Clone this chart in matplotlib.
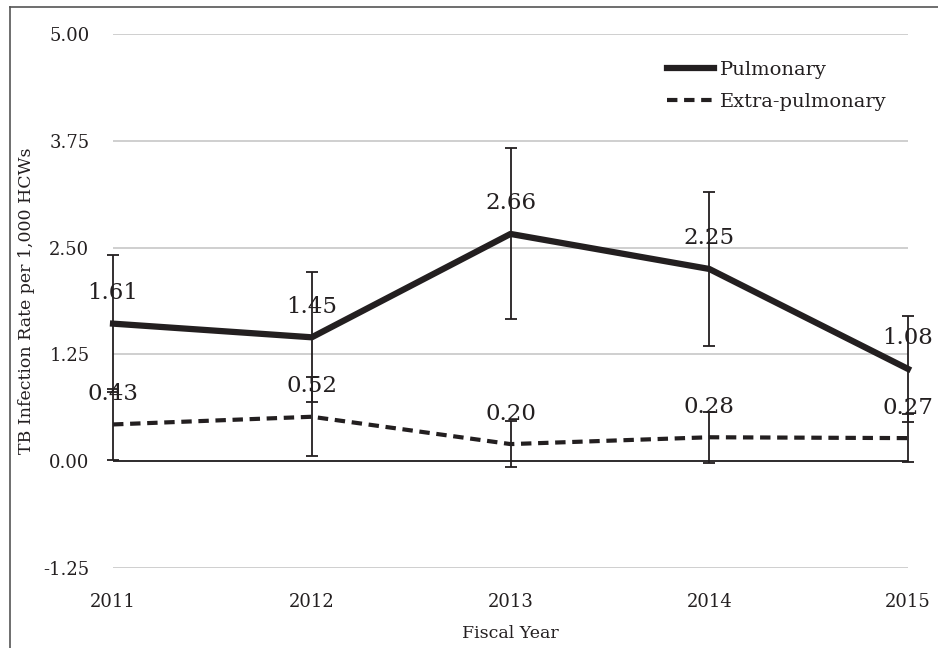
import matplotlib.pyplot as plt
from matplotlib.lines import Line2D

plt.rcParams['font.family'] = ['DejaVu Serif']

years = [2011, 2012, 2013, 2014, 2015]
pulmonary = [1.61, 1.45, 2.66, 2.25, 1.08]
pulmonary_err = [0.80, 0.76, 1.00, 0.90, 0.62]
extra = [0.43, 0.52, 0.20, 0.28, 0.27]
extra_err = [0.42, 0.46, 0.27, 0.30, 0.28]
yticks = [-1.25, 0.00, 1.25, 2.50, 3.75, 5.00]

ink = '#231f20'
dash = (0, (2.5, 1.6))

fig = plt.figure(figsize=(9.38, 6.48), dpi=100)
ax = fig.add_axes([0.1205, 0.1235, 0.8475, 0.824])

for vals, errs, lw, ls in [(pulmonary, pulmonary_err, 4.5, '-'), (extra, extra_err, 3, dash)]:
    ax.plot(years, vals, color=ink, lw=lw, ls=ls, zorder=3, clip_on=False)
    eb = ax.errorbar(years, vals, yerr=errs, fmt='none', ecolor=ink,
                     elinewidth=1.3, capsize=4, capthick=1.3, zorder=4)
    for art in eb.lines[1] + eb.lines[2]:
        art.set_clip_on(False)
    for x, y in zip(years, vals):
        ax.annotate('%.2f' % y, (x, y), xytext=(0, 22), textcoords='offset points',
                    ha='center', va='center', fontsize=16.5, color=ink)

ax.set_xlim(2011, 2015)
ax.set_ylim(-1.25, 5.0)
ax.set_yticks(yticks)
ax.set_yticklabels(['%.2f' % t for t in yticks])
ax.set_xticks(years)
ax.tick_params(axis='both', length=0, labelsize=13, colors=ink)
ax.tick_params(axis='y', pad=17)
ax.tick_params(axis='x', pad=18)
ax.grid(axis='y', color='#cccccc', lw=1.3)
ax.axhline(0, color=ink, lw=1.3, zorder=2)
for s in ax.spines.values():
    s.set_visible(False)

ax.set_xlabel('Fiscal Year', fontsize=12.5, color=ink, labelpad=10)
ax.set_ylabel('TB Infection Rate per 1,000 HCWs', fontsize=12.5, color=ink, labelpad=6)

handles = [Line2D([], [], color=ink, lw=4.5), Line2D([], [], color=ink, lw=3, ls=dash)]
leg = ax.legend(handles, ['Pulmonary', 'Extra-pulmonary'], loc='upper right',
                bbox_to_anchor=(0.995, 0.983), frameon=False, fontsize=14,
                handlelength=2.4, handletextpad=0.3, labelspacing=0.75)
for t in leg.get_texts():
    t.set_color(ink)

# page frame, only top and left edges visible
fig.add_artist(Line2D([0.0107, 0.0107], [0, 0.989], transform=fig.transFigure, color='#555555', lw=1.2))
fig.add_artist(Line2D([0.0107, 1], [0.989, 0.989], transform=fig.transFigure, color='#555555', lw=1.2))

fig.savefig('out.png', dpi=100)
